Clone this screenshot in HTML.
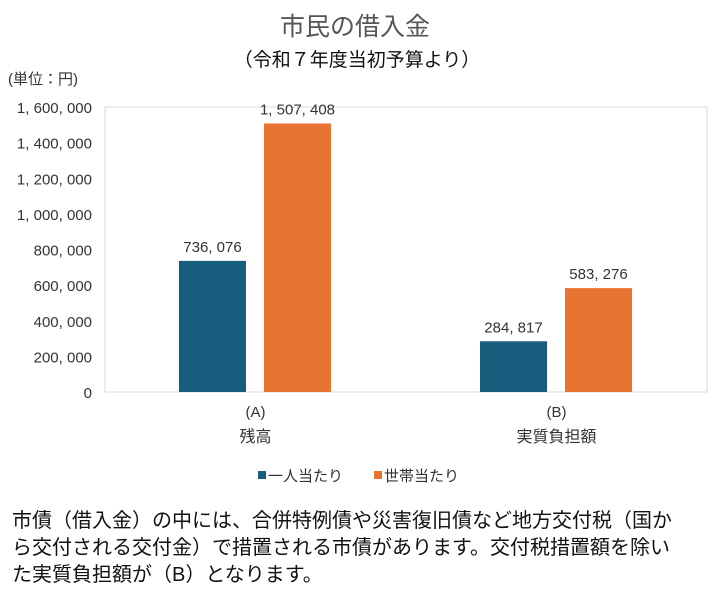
<!DOCTYPE html>
<html><head><meta charset="utf-8"><style>
body{margin:0;background:#fff;width:712px;height:595px;overflow:hidden;font-family:"Liberation Sans","Noto Sans CJK JP",sans-serif;}
svg text{font-family:"Liberation Sans","Noto Sans CJK JP",sans-serif;}
#note{position:absolute;left:12px;top:508px;width:705px;font-size:20px;line-height:27px;color:#111;white-space:nowrap;font-family:"Liberation Sans","Noto Sans CJK JP",sans-serif;}
</style></head><body>
<svg id="chart" width="712" height="500" style="position:absolute;left:0;top:0">
<text x="355" y="35" text-anchor="middle" font-size="25" fill="#555">市民の借入金</text>
<text x="357" y="66" text-anchor="middle" font-size="19" fill="#111">（令和７年度当初予算より）</text>
<text x="8" y="84" font-size="15" fill="#333">(単位：円)</text>
<rect x="105" y="107" width="602" height="285" fill="none" stroke="#d9d9d9"/>
<g id="yaxis"></g><g id="bars"></g><g id="xaxis"></g>
<g>
<rect x="258" y="471" width="8" height="8" fill="#175e7e"/>
<text x="268" y="481" font-size="15" fill="#333">一人当たり</text>
<rect x="374" y="471" width="8" height="8" fill="#e97432"/>
<text x="384" y="481" font-size="15" fill="#333">世帯当たり</text>
</g>
</svg>
<div id="note">市債（借入金）の中には、合併特例債や災害復旧債など地方交付税（国か<br>ら交付される交付金）で措置される市債があります。交付税措置額を除い<br>た実質負担額が（B）となります。</div>
<script>
const categories=["(A)|残高","(B)|実質負担額"];
const perPerson=[736076,284817];
const perHousehold=[1507408,583276];
const ticks=[0,200000,400000,600000,800000,1000000,1200000,1400000,1600000];
const NS="http://www.w3.org/2000/svg";
const y0=392,y1=107,maxV=1600000,left=105,width=602;
const y=v=>y0-(v/maxV)*(y0-y1);
const cx=i=>left+width/categories.length*(i+0.5);
const fmt=v=>v.toLocaleString("en-US").replace(/,/g,", ");
function mk(tag,attrs,parent,txt){const e=document.createElementNS(NS,tag);for(const k in attrs)e.setAttribute(k,attrs[k]);if(txt!=null)e.textContent=txt;parent.appendChild(e);return e;}
const ya=document.getElementById("yaxis");
ticks.forEach(t=>{const e=mk("text",{x:92,y:y(t)+6,"text-anchor":"end","font-size":"15",fill:"#333"},ya,fmt(t));

});
const bg=document.getElementById("bars");
const series=[[perPerson,"#175e7e",-43,"bar-per-person"],[perHousehold,"#e97432",42,"bar-per-household"]];
categories.forEach((c,i)=>{
 series.forEach(([arr,col,off,nm])=>{
  const bx=cx(i)+off-33.5;
  const r=mk("rect",{x:bx,y:y(arr[i]),width:67,height:y0-y(arr[i]),fill:col},bg);
  
  
  const l=mk("text",{x:bx+33.5,y:y(arr[i])-9,"text-anchor":"middle","font-size":"15",fill:"#333"},bg,fmt(arr[i]));
  
  
 });
 const [a,b]=c.split("|");
 const t1=mk("text",{x:cx(i),y:417,"text-anchor":"middle","font-size":"15",fill:"#333"},document.getElementById("xaxis"),a);
 
 
 const t2=mk("text",{x:cx(i),y:442,"text-anchor":"middle","font-size":"16",fill:"#333"},document.getElementById("xaxis"),b);
 
 
});
</script>
</body></html>
